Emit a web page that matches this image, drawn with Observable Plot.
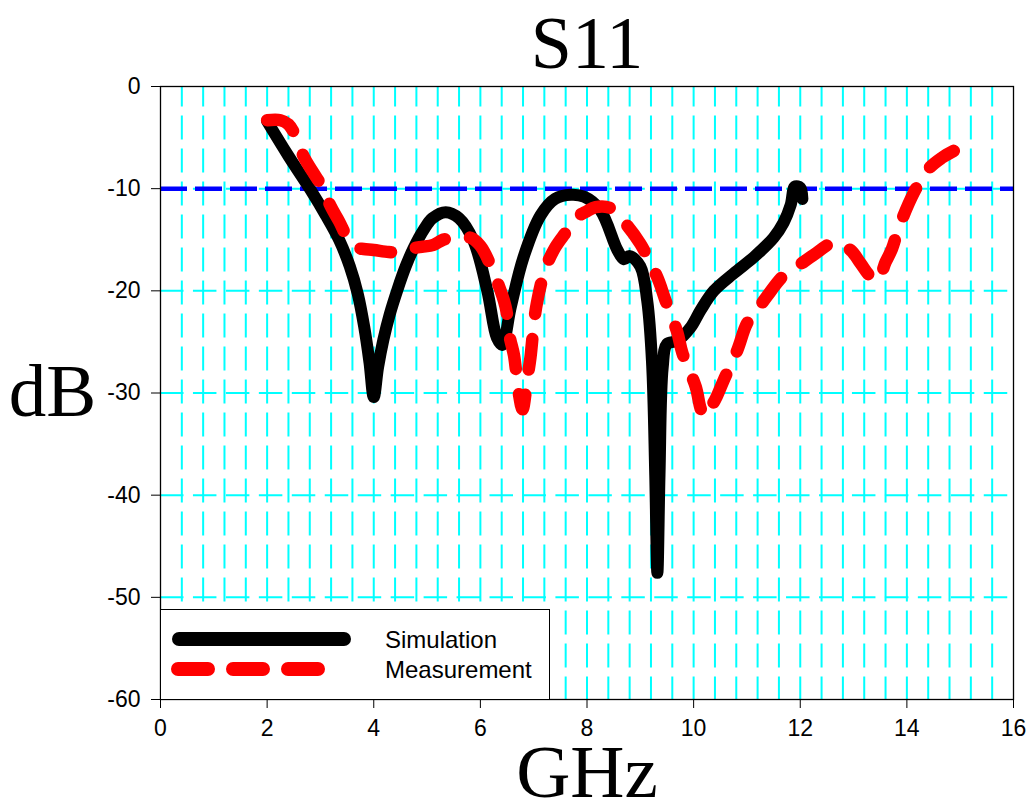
<!DOCTYPE html>
<html><head><meta charset="utf-8">
<script src="https://cdn.jsdelivr.net/npm/d3@7"></script>
<script src="https://cdn.jsdelivr.net/npm/@observablehq/plot@0.6"></script>
<style>
html,body{margin:0;padding:0;background:#fff;}
#wrap{position:relative;width:1032px;height:811px;}
#legend{position:absolute;left:160px;top:609px;width:390px;height:91px;box-sizing:border-box;border:1px solid #000;background:#fff;}
#legend svg{display:block;}
</style></head><body><div id="wrap"></div>
<script>
const titleText = "S11";
const xLabel = "GHz";
const yLabel = "dB";
const seriesNames = ["Simulation", "Measurement"];
const xTickValues = [0, 2, 4, 6, 8, 10, 12, 14, 16];
const yTickValues = [0, -10, -20, -30, -40, -50, -60];
const thresholdDb = [-10];
const gridYValues = [-10, -20, -30, -40, -50];
const gridXValues = d3.range(1, 40).map(i => Math.round(i * 0.4 * 10) / 10);

const simFreq = [2.0, 2.4, 2.8, 3.1, 3.35, 3.55, 3.7, 3.82, 3.92, 4.0, 4.08, 4.18, 4.3, 4.45, 4.6, 4.75, 4.94, 5.1, 5.35, 5.6, 5.87, 6.13, 6.31, 6.41, 6.57, 6.81, 7.13, 7.4, 7.7, 7.95, 8.25, 8.57, 8.69, 8.8, 9.0, 9.13, 9.22, 9.28, 9.32, 9.36, 9.42, 9.5, 9.69, 9.94, 10.13, 10.38, 10.75, 11.13, 11.5, 11.69, 11.82, 11.9, 12.0, 12.04];
const simDb   = [-3.4, -6.8, -10.0, -12.6, -15.0, -17.6, -20.3, -23.5, -27.0, -30.4, -27.5, -24.8, -22.3, -19.8, -17.6, -15.8, -14.0, -12.9, -12.3, -12.9, -15.1, -20.0, -24.6, -25.3, -21.6, -16.7, -12.6, -11.0, -10.6, -10.8, -12.1, -16.0, -16.9, -16.6, -17.6, -21.0, -27.0, -38.0, -47.6, -38.0, -27.5, -25.2, -24.9, -23.6, -21.9, -20.0, -18.3, -16.7, -14.8, -13.3, -11.6, -9.8, -9.9, -11.0];

const measFreq = [2.0, 2.25, 2.4, 2.53, 2.69, 2.85, 3.04, 3.19, 3.35, 3.53, 3.7, 3.81, 4.0, 4.28, 4.45, 4.63, 4.9, 5.12, 5.3, 5.5, 5.81, 6.0, 6.23, 6.47, 6.55, 6.63, 6.72, 6.79, 6.88, 6.94, 7.0, 7.06, 7.22, 7.41, 7.6, 7.81, 8.0, 8.16, 8.44, 8.72, 9.0, 9.32, 9.47, 9.69, 9.79, 10.04, 10.13, 10.2, 10.3, 10.41, 10.56, 10.82, 11.0, 11.2, 11.38, 11.69, 12.0, 12.25, 12.63, 12.94, 13.13, 13.3, 13.45, 13.6, 13.72, 13.85, 14.13, 14.38, 14.65, 14.88];
const measDb   = [-3.3, -3.3, -3.7, -4.8, -6.9, -8.3, -9.9, -11.7, -13.2, -15.0, -15.8, -15.9, -16.0, -16.2, -16.2, -15.9, -15.7, -15.5, -15.0, -14.8, -14.8, -15.6, -18.0, -21.5, -24.5, -26.3, -30.0, -31.6, -28.6, -26.5, -23.4, -21.2, -17.8, -15.7, -14.3, -12.8, -12.2, -11.8, -11.9, -13.4, -15.4, -18.7, -20.9, -24.0, -26.1, -29.4, -31.5, -32.3, -31.5, -30.6, -28.8, -25.8, -23.2, -21.8, -20.5, -18.5, -17.4, -16.5, -15.3, -16.0, -17.3, -18.5, -19.0, -17.2, -15.9, -13.8, -10.4, -8.2, -7.0, -6.3];

const sim = simFreq.map((f, i) => ({f, db: simDb[i]}));
const meas = measFreq.map((f, i) => ({f, db: measDb[i]}));

const serif = "'Liberation Serif', 'Times New Roman', serif";
const fmt = d => String(d);

const chart = Plot.plot({
  width: 1032, height: 811,
  marginLeft: 160, marginRight: 19, marginTop: 86, marginBottom: 112,
  style: {background: "white", fontFamily: "Arial, 'Liberation Sans', sans-serif", fontSize: "23px", color: "black", overflow: "visible"},
  x: {domain: [0, 16], ticks: xTickValues, tickSize: 9, tickPadding: 11, tickFormat: fmt, label: null},
  y: {domain: [-60, 0], ticks: yTickValues, tickSize: 9, tickPadding: 11, tickFormat: fmt, label: null},
  marks: [
    Plot.ruleX(gridXValues, {stroke: "#00ffff", strokeWidth: 2, strokeDasharray: "24,9", strokeDashoffset: 3.5}),
    Plot.ruleY(gridYValues, {stroke: "#00ffff", strokeWidth: 2, strokeDasharray: "23.5,9.45"}),
    Plot.ruleY(thresholdDb, {stroke: "#0000ff", strokeWidth: 4.5, strokeDasharray: "27,8"}),
    Plot.frame({stroke: "black", strokeWidth: 1.3}),
    Plot.line(sim, {x: "f", y: "db", stroke: "black", strokeWidth: 12, curve: "catmull-rom", strokeLinecap: "round", strokeLinejoin: "round"}),
    Plot.line(meas, {x: "f", y: "db", stroke: "#ff0000", strokeWidth: 12.5, curve: "catmull-rom", strokeDasharray: "30,25", strokeLinecap: "round", strokeLinejoin: "round", className: "meas-line"}),
    Plot.text([titleText], {text: d => d, frameAnchor: "top", dy: -19, lineAnchor: "bottom", fontSize: 74, fontFamily: serif, fill: "black"}),
    Plot.text([xLabel], {text: d => d, frameAnchor: "bottom", dy: 97, lineAnchor: "bottom", fontSize: 75, fontFamily: serif, fill: "black"}),
    Plot.text([yLabel], {text: d => d, frameAnchor: "left", textAnchor: "middle", dx: -108, dy: 23, lineAnchor: "bottom", fontSize: 75, fontFamily: serif, fill: "black"})
  ]
});

const wrap = document.getElementById("wrap");
wrap.appendChild(chart);

// fit the dash period so the measured trace ends on a dash, as in the reference
const measPath = chart.querySelector(".meas-line path");
if (measPath && measPath.getTotalLength) {
  const L = measPath.getTotalLength();
  const n = Math.max(1, Math.round((L - 30) / 55));
  const period = (L - 30) / n;
  const dash = 30 * period / 55;
  measPath.setAttribute("stroke-dasharray", `${dash},${period - dash}`);
  const g = chart.querySelector(".meas-line");
  if (g) g.removeAttribute("stroke-dasharray");
}

const legend = document.createElement("div");
legend.id = "legend";
const lsvg = d3.create("svg").attr("width", 388).attr("height", 89);
lsvg.append("line").attr("x1", 18).attr("x2", 183).attr("y1", 29).attr("y2", 29)
  .attr("stroke", "black").attr("stroke-width", 14).attr("stroke-linecap", "round");
lsvg.append("line").attr("x1", 17).attr("x2", 157).attr("y1", 59).attr("y2", 59)
  .attr("stroke", "#ff0000").attr("stroke-width", 14).attr("stroke-linecap", "round").attr("stroke-dasharray", "30,25");
lsvg.selectAll("text.lbl").data(seriesNames).join("text")
  .attr("x", 224).attr("y", (d, i) => 38 + i * 30)
  .attr("font-family", "Arial, 'Liberation Sans', sans-serif").attr("font-size", 24)
  .text(d => d);
legend.appendChild(lsvg.node());
wrap.appendChild(legend);
</script>
</body></html>
